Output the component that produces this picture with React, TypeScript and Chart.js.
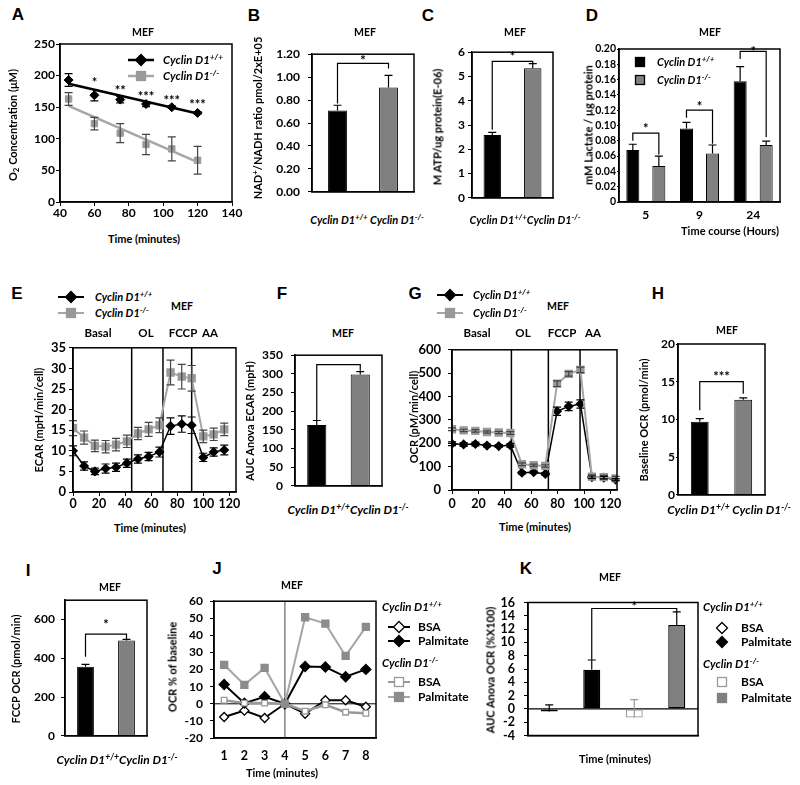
import React, { useEffect, useRef } from 'react';
import { Chart, registerables } from 'chart.js';

Chart.register(...registerables);

const FONT = "Lato, 'Noto Sans', 'DejaVu Sans', sans-serif";
const LETTER_FONT = "'Liberation Sans', Arial, sans-serif";
const GRAY = '#808080';

// ===== Panel A: O2 concentration =====
const aTimes = [45, 60, 75, 90, 105, 120];
const aWT = [193, 169, 162, 155, 150, 141];
const aWTErr = [10, 9, 5, 4, 2, 2];
const aKO = [163, 124, 109, 91, 84, 66];
const aKOErr = [10, 10, 15, 16, 19, 22];
const aTrendX = [45, 120];
const aTrendWT = [187, 140];
const aTrendKO = [152, 63];
const aStarX = [60, 75, 90, 105, 120];
const aStarY = [193, 180, 171, 165, 158];
const aStarText = ['*', '**', '***', '***', '***'];
const aXTicks = [40, 60, 80, 100, 120, 140];
const aYTicks = [0, 50, 100, 150, 200, 250];

// ===== Bar categories (B, C, F, H, I) =====
const barCats = ['Cyclin D1+/+', 'Cyclin D1-/-'];

// ===== Panel B: NAD+/NADH =====
const bVals = [0.71, 0.91];
const bErr = [0.045, 0.105];
const bYTicks = [0, 0.2, 0.4, 0.6, 0.8, 1.0, 1.2];

// ===== Panel C: ATP =====
const cVals = [2.59, 5.34];
const cErr = [0.11, 0.19];
const cYTicks = [0, 1, 2, 3, 4, 5, 6];

// ===== Panel D: Lactate =====
const dCats = ['5', '9', '24'];
const dWT = [0.068, 0.096, 0.158];
const dWTErr = [0.0075, 0.008, 0.019];
const dKO = [0.047, 0.0635, 0.0745];
const dKOErr = [0.013, 0.011, 0.005];
const dYTicks = [0, 0.02, 0.04, 0.06, 0.08, 0.1, 0.12, 0.14, 0.16, 0.18, 0.2];

// ===== Panel E: ECAR =====
const eTimes = [0, 8.5, 16.8, 25, 33, 41.3, 49.8, 58, 66.3, 74.8, 83.4, 91, 99.9, 107.9, 116];
const eKO = [15.5, 13.2, 11.2, 11, 11.5, 12.3, 14.2, 15.2, 16.2, 29, 28, 27.6, 13.5, 14, 15.2];
const eKOErr = [1.8, 1.6, 1.4, 1.5, 1.5, 1.5, 1.5, 1.7, 1.8, 3, 3, 3.1, 1.5, 1.5, 1.5];
const eWT = [10, 6.3, 5, 5.7, 6, 7, 8, 8.6, 9.7, 16, 16.5, 16.2, 8.4, 9.7, 10.2];
const eWTErr = [1.2, 1, 0.8, 1.1, 1, 1, 1, 1, 1.2, 2, 2, 2, 1, 1, 1.2];
const ePhase = [45, 69, 91];
const eXTicks = [0, 20, 40, 60, 80, 100, 120];
const eYTicks = [0, 5, 10, 15, 20, 25, 30, 35];

// ===== Panel F: AUC ECAR =====
const fVals = [163, 298];
const fErr = [12, 8];
const fYTicks = [0, 50, 100, 150, 200, 250, 300, 350];

// ===== Panel G: OCR =====
const gTimes = [0, 8.8, 17.7, 26.5, 35.4, 44.2, 53, 61.9, 70.7, 79.6, 88.4, 97.3, 106, 115, 124];
const gKO = [260, 255, 253, 248, 246, 244, 110, 106, 103, 455, 497, 514, 57, 55, 50];
const gKOErr = [6, 5, 5, 5, 5, 6, 6, 5, 5, 12, 10, 12, 8, 8, 8];
const gWT = [198, 195, 197, 190, 188, 191, 74, 76, 69, 337, 358, 368, 55, 53, 44];
const gWTErr = [8, 8, 8, 6, 6, 8, 5, 5, 5, 18, 18, 18, 5, 5, 5];
const gPhase = [45, 73, 97];
const gXTicks = [0, 20, 40, 60, 80, 100, 120];
const gYTicks = [0, 100, 200, 300, 400, 500, 600];

// ===== Panel H: baseline OCR =====
const hVals = [9.7, 12.6];
const hErr = [0.4, 0.25];
const hYTicks = [0, 5, 10, 15, 20];

// ===== Panel I: FCCP OCR =====
const iVals = [357, 492];
const iErr = [12, 6];
const iYTicks = [0, 200, 400, 600];

// ===== Panel J: OCR % of baseline =====
const jCats = ['1', '2', '3', '4', '5', '6', '7', '8'];
const jKOPal = [22.8, 11.1, 21, 0, 50.6, 46.9, 28, 45];
const jWTPal = [11.3, 0.4, 4.1, 0, 21.8, 21.5, 15.8, 20.1];
const jWTBSA = [-7.7, -4, -8.3, 0, -5.8, 2.1, 2.1, -1.7];
const jKOBSA = [2.1, 0.4, 0.4, 0, -4.3, -0.6, -4.9, -5.5];
const jYTicks = [-20, -10, 0, 10, 20, 30, 40, 50, 60];

// ===== Panel K: AUC OCR =====
const kCats = ['BSA +/+', 'Palmitate +/+', 'BSA -/-', 'Palmitate -/-'];
const kVals = [-0.4, 5.9, -1.3, 12.6];
const kErr = [1.0, 1.45, 2.7, 2.0];
const kYTicks = [-4, -2, 0, 2, 4, 6, 8, 10, 12, 14, 16];

// ---------- helpers ----------
const PT = 10;
const PR = 16;
const tf = (size: number) => ({ family: FONT, size, weight: 'bold' as const });

function drawStar(ctx: any, x: number, y: number, text: string) {
  ctx.save();
  ctx.fillStyle = '#000';
  ctx.font = `bold 13px ${FONT}`;
  ctx.textAlign = 'center';
  ctx.textBaseline = 'alphabetic';
  ctx.fillText(text, x, y + 7);
  ctx.restore();
}

function overlay(spec: any) {
  return {
    id: 'overlay',
    beforeDatasetsDraw(chart: any) {
      const { ctx, chartArea: ca } = chart;
      const xs = chart.scales.x;
      const ys = chart.scales.y;
      ctx.save();
      for (const h of spec.hlines || []) {
        const y = ys.getPixelForValue(h.y);
        ctx.strokeStyle = h.color;
        ctx.lineWidth = h.width;
        ctx.beginPath();
        ctx.moveTo(ca.left, y);
        ctx.lineTo(ca.right, y);
        ctx.stroke();
      }
      for (const v of spec.vlines || []) {
        const x = xs.getPixelForValue(v.x);
        ctx.strokeStyle = v.color;
        ctx.lineWidth = v.width;
        ctx.beginPath();
        ctx.moveTo(x, ca.top);
        ctx.lineTo(x, ca.bottom);
        ctx.stroke();
      }
      ctx.restore();
    },
    afterDatasetsDraw(chart: any) {
      const { ctx } = chart;
      const xs = chart.scales.x;
      const ys = chart.scales.y;
      ctx.save();
      chart.data.datasets.forEach((ds: any, di: number) => {
        if (!ds.errors) return;
        const meta = chart.getDatasetMeta(di);
        meta.data.forEach((el: any, i: number) => {
          const e = ds.errors[i];
          if (e == null) return;
          const raw = ds.data[i];
          const v = typeof raw === 'number' ? raw : raw.y;
          const col = Array.isArray(ds.errColor) ? ds.errColor[i] : ds.errColor || '#000';
          const top = ys.getPixelForValue(v + e);
          const bot = ys.getPixelForValue(ds.errMode === 'both' ? v - e : v);
          const cw = ds.errCap ?? 4;
          ctx.strokeStyle = col;
          ctx.lineWidth = 1.2;
          ctx.beginPath();
          ctx.moveTo(el.x, bot);
          ctx.lineTo(el.x, top);
          ctx.moveTo(el.x - cw, top);
          ctx.lineTo(el.x + cw, top);
          if (ds.errMode === 'both') {
            ctx.moveTo(el.x - cw, bot);
            ctx.lineTo(el.x + cw, bot);
          }
          ctx.stroke();
        });
      });
      for (const b of spec.brackets || []) {
        const xa = chart.getDatasetMeta(b.a[0]).data[b.a[1]].x;
        const xb = chart.getDatasetMeta(b.b[0]).data[b.b[1]].x;
        const yt = ys.getPixelForValue(b.top);
        ctx.strokeStyle = '#000';
        ctx.lineWidth = 1.2;
        ctx.beginPath();
        ctx.moveTo(xa, ys.getPixelForValue(b.ya));
        ctx.lineTo(xa, yt);
        ctx.lineTo(xb, yt);
        ctx.lineTo(xb, ys.getPixelForValue(b.yb));
        ctx.stroke();
        if (b.text) drawStar(ctx, (xa + xb) / 2, ys.getPixelForValue(b.ty), b.text);
      }
      for (const t of spec.texts || []) {
        drawStar(ctx, xs.getPixelForValue(t.x), ys.getPixelForValue(t.y), t.text);
      }
      ctx.restore();
    },
    afterDraw(chart: any) {
      const { ctx, chartArea: ca } = chart;
      ctx.save();
      ctx.strokeStyle = '#000';
      ctx.lineWidth = 1.5;
      ctx.strokeRect(ca.left, ca.top, ca.right - ca.left, ca.bottom - ca.top);
      ctx.restore();
    },
  };
}

function linY(min: number, max: number, ticks: number[], yW: number, o: any = {}) {
  return {
    type: 'linear',
    position: 'left',
    min,
    max,
    afterBuildTicks: (s: any) => {
      s.ticks = ticks.map((v) => ({ value: v }));
    },
    ticks: {
      font: tf(o.size ?? 12),
      color: '#000',
      padding: o.pad ?? 3,
      autoSkip: false,
      callback: o.fmt ?? ((v: any) => String(v)),
    },
    grid: { drawOnChartArea: false, drawTicks: true, tickLength: o.tl ?? 4, color: '#000', lineWidth: 1 },
    border: { display: true, color: '#000', width: 1.5 },
    afterFit: (s: any) => {
      s.width = yW;
    },
  };
}

function linX(min: number, max: number, ticks: number[], xH: number, o: any = {}) {
  return {
    type: 'linear',
    position: 'bottom',
    min,
    max,
    afterBuildTicks: (s: any) => {
      s.ticks = ticks.map((v) => ({ value: v }));
    },
    ticks: {
      font: tf(o.size ?? 12),
      color: '#000',
      padding: o.pad ?? 0,
      maxRotation: 0,
      autoSkip: false,
      callback: (v: any) => String(v),
    },
    grid: { drawOnChartArea: false, drawTicks: true, tickLength: o.tl ?? 4, color: '#000', lineWidth: 1 },
    border: { display: true, color: '#000', width: 1.5 },
    afterFit: (s: any) => {
      s.height = xH;
    },
  };
}

function catX(xH: number, o: any = {}) {
  return {
    type: 'category',
    position: 'bottom',
    offset: true,
    ticks: {
      display: !!o.show,
      font: tf(o.size ?? 12),
      color: '#000',
      padding: o.pad ?? 4,
      maxRotation: 0,
      autoSkip: false,
    },
    grid: { display: false, drawTicks: false },
    border: { display: true, color: '#000', width: 1.5 },
    afterFit: (s: any) => {
      s.height = xH;
    },
  };
}

function opts(x: any, y: any) {
  return {
    responsive: false,
    maintainAspectRatio: false,
    animation: false,
    events: [],
    layout: { padding: { top: PT, right: PR, left: 0, bottom: 0 } },
    plugins: { legend: { display: false }, tooltip: { enabled: false }, title: { display: false } },
    scales: { x, y },
  };
}

const pts = (xs: number[], ys: number[]) => xs.map((x, i) => ({ x, y: ys[i] }));

type Rect = { l: number; t: number; r: number; b: number };

function Panel({ rect, yW, xH, make }: { rect: Rect; yW: number; xH: number; make: (yW: number, xH: number) => any }) {
  const ref = useRef<HTMLCanvasElement | null>(null);
  const w = yW + (rect.r - rect.l) + PR;
  const h = PT + (rect.b - rect.t) + xH;
  useEffect(() => {
    const c = new Chart(ref.current as HTMLCanvasElement, make(yW, xH));
    return () => c.destroy();
  }, []);
  return (
    <canvas
      ref={ref}
      width={w}
      height={h}
      style={{ position: 'absolute', left: rect.l - yW, top: rect.t - PT, width: w, height: h }}
    />
  );
}

function twoBar(vals: number[], errs: number[], barPct: number) {
  return {
    labels: barCats,
    datasets: [
      {
        data: vals,
        errors: errs,
        errMode: 'up',
        backgroundColor: ['#000000', GRAY],
        borderColor: '#000',
        borderWidth: 1,
        barPercentage: barPct,
        categoryPercentage: 1,
      },
    ],
  };
}

// ---------- chart builders ----------
const makeA = (yW: number, xH: number) => ({
  type: 'scatter',
  data: {
    datasets: [
      { data: pts(aTrendX, aTrendWT), showLine: true, pointRadius: 0, borderColor: '#000', borderWidth: 2.5 },
      { data: pts(aTrendX, aTrendKO), showLine: true, pointRadius: 0, borderColor: '#a6a6a6', borderWidth: 2.5 },
      {
        data: pts(aTimes, aWT), errors: aWTErr, errMode: 'both', errColor: '#000',
        pointStyle: 'rectRot', pointRadius: 4.5, backgroundColor: '#000', borderColor: '#000',
      },
      {
        data: pts(aTimes, aKO), errors: aKOErr, errMode: 'both', errColor: '#444',
        pointStyle: 'rect', pointRadius: 4.5, backgroundColor: '#999', borderColor: '#999',
      },
    ],
  },
  options: opts(linX(40, 140, aXTicks, xH, { pad: 0 }), linY(0, 250, aYTicks, yW, { pad: 1 })),
  plugins: [overlay({ texts: aStarX.map((x, i) => ({ x, y: aStarY[i], text: aStarText[i] })) })],
});

const makeB = (yW: number, xH: number) => ({
  type: 'bar',
  data: twoBar(bVals, bErr, 0.37),
  options: opts(catX(xH), linY(0, 1.2, bYTicks, yW, { pad: 8, fmt: (v: number) => v.toFixed(2) })),
  plugins: [overlay({ brackets: [{ a: [0, 0], b: [0, 1], ya: 0.77, yb: 1.075, top: 1.12, text: '*', ty: 1.17 }] })],
});

const makeC = (yW: number, xH: number) => ({
  type: 'bar',
  data: twoBar(cVals, cErr, 0.43),
  options: opts(catX(xH), linY(0, 6, cYTicks, yW, { pad: 3 })),
  plugins: [overlay({ brackets: [{ a: [0, 0], b: [0, 1], ya: 2.8, yb: 5.5, top: 5.62, text: '*', ty: 5.93 }] })],
});

const makeD = (yW: number, xH: number) => ({
  type: 'bar',
  data: {
    labels: dCats,
    datasets: [
      {
        data: dWT, errors: dWTErr, errMode: 'up', backgroundColor: '#000', borderColor: '#000', borderWidth: 1,
        barPercentage: 0.5, categoryPercentage: 0.97,
      },
      {
        data: dKO, errors: dKOErr, errMode: 'up', backgroundColor: GRAY, borderColor: '#000', borderWidth: 1,
        barPercentage: 0.5, categoryPercentage: 0.97,
      },
    ],
  },
  options: opts(
    catX(xH, { show: true, pad: 6 }),
    linY(0, 0.2, dYTicks, yW, { size: 10.5, pad: 1, tl: 2, fmt: (v: number) => (v === 0 ? '0' : v.toFixed(2)) })
  ),
  plugins: [
    overlay({
      brackets: [
        { a: [0, 0], b: [1, 0], ya: 0.08, yb: 0.062, top: 0.09, text: '*', ty: 0.1 },
        { a: [0, 1], b: [1, 1], ya: 0.11, yb: 0.076, top: 0.12, text: '*', ty: 0.128 },
        { a: [0, 2], b: [1, 2], ya: 0.187, yb: 0.085, top: 0.197, text: '*', ty: 0.2 },
      ],
    }),
  ],
});

const makeTimeCourse = (
  times: number[], ko: number[], koErr: number[], wt: number[], wtErr: number[],
  phase: number[], xTicks: number[], yMax: number, yTicks: number[], yPad: number, xPad: number
) => (yW: number, xH: number) => ({
  type: 'scatter',
  data: {
    datasets: [
      {
        data: pts(times, ko), errors: koErr, errMode: 'both', errColor: '#444',
        showLine: true, borderColor: '#a6a6a6', borderWidth: 2,
        pointStyle: 'rect', pointRadius: 4.5, backgroundColor: '#999', pointBorderColor: '#999',
      },
      {
        data: pts(times, wt), errors: wtErr, errMode: 'both', errColor: '#000',
        showLine: true, borderColor: '#000', borderWidth: 1.5,
        pointStyle: 'rectRot', pointRadius: 4, backgroundColor: '#000', pointBorderColor: '#000',
      },
    ],
  },
  options: opts(
    linX(0, 125, xTicks, xH, { pad: xPad, size: 12.5 }),
    linY(0, yMax, yTicks, yW, { pad: yPad, size: 13 })
  ),
  plugins: [overlay({ vlines: phase.map((x) => ({ x, color: '#000', width: 1.5 })) })],
});

const makeE = makeTimeCourse(eTimes, eKO, eKOErr, eWT, eWTErr, ePhase, eXTicks, 35, eYTicks, 3, 0);
const makeG = makeTimeCourse(gTimes, gKO, gKOErr, gWT, gWTErr, gPhase, gXTicks, 600, gYTicks, 7, 2);

const makeF = (yW: number, xH: number) => ({
  type: 'bar',
  data: twoBar(fVals, fErr, 0.44),
  options: opts(catX(xH), linY(0, 350, fYTicks, yW, { pad: 8 })),
  plugins: [overlay({ brackets: [{ a: [0, 0], b: [0, 1], ya: 176, yb: 308, top: 325 }] })],
});

const makeH = (yW: number, xH: number) => ({
  type: 'bar',
  data: twoBar(hVals, hErr, 0.41),
  options: opts(catX(xH), linY(0, 20, hYTicks, yW, { pad: 1, tl: 2 })),
  plugins: [overlay({ brackets: [{ a: [0, 0], b: [0, 1], ya: 11.2, yb: 13.4, top: 15, text: '***', ty: 16 }] })],
});

const makeI = (yW: number, xH: number) => ({
  type: 'bar',
  data: twoBar(iVals, iErr, 0.41),
  options: opts(catX(xH), linY(0, 700, iYTicks, yW, { pad: 6 })),
  plugins: [overlay({ brackets: [{ a: [0, 0], b: [0, 1], ya: 408, yb: 500, top: 525, text: '*', ty: 588 }] })],
});

const makeJ = (yW: number, xH: number) => ({
  type: 'line',
  data: {
    labels: jCats,
    datasets: [
      {
        data: jKOPal, borderColor: '#a6a6a6', borderWidth: 2, tension: 0, fill: false,
        pointStyle: 'rect', pointRadius: 4.5, pointBackgroundColor: '#8c8c8c', pointBorderColor: '#8c8c8c',
      },
      {
        data: jKOBSA, borderColor: '#999', borderWidth: 2.5, tension: 0, fill: false,
        pointStyle: 'rect', pointRadius: 4, pointBackgroundColor: '#fff', pointBorderColor: '#999', pointBorderWidth: 1.3,
      },
      {
        data: jWTPal, borderColor: '#000', borderWidth: 2, tension: 0, fill: false,
        pointStyle: 'rectRot', pointRadius: 4.5, pointBackgroundColor: '#000', pointBorderColor: '#000',
      },
      {
        data: jWTBSA, borderColor: '#000', borderWidth: 2, tension: 0, fill: false,
        pointStyle: 'rectRot', pointRadius: 4.5, pointBackgroundColor: '#fff', pointBorderColor: '#000', pointBorderWidth: 1.3,
      },
    ],
  },
  options: opts(catX(xH, { show: true, pad: 10, size: 12.5 }), linY(-20, 60, jYTicks, yW, { pad: 7 })),
  plugins: [
    overlay({
      hlines: [{ y: 0, color: '#000', width: 1 }],
      vlines: [{ x: 3, color: '#808080', width: 1.5 }],
    }),
  ],
});

const makeK = (yW: number, xH: number) => ({
  type: 'bar',
  data: {
    labels: kCats,
    datasets: [
      {
        data: kVals, errors: kErr, errMode: 'up', errColor: ['#000', '#000', '#999', '#000'],
        backgroundColor: ['#ffffff', '#000000', '#ffffff', GRAY],
        borderColor: ['#000', '#000', '#999', '#000'],
        borderWidth: 1.3, borderSkipped: false,
        barPercentage: 0.4, categoryPercentage: 1,
      },
    ],
  },
  options: opts(catX(xH), linY(-4, 16, kYTicks, yW, { pad: 9, size: 12.5 })),
  plugins: [
    overlay({
      hlines: [{ y: 0, color: '#000', width: 1.2 }],
      brackets: [{ a: [0, 1], b: [0, 3], ya: 7.4, yb: 14.6, top: 15.1, text: '*', ty: 15.7 }],
    }),
  ],
});

// ---------- HTML text helpers ----------
function Txt({ x, y, s = 11, it = false, rot = false, left = false, fam = FONT, children }: any) {
  return (
    <div
      style={{
        position: 'absolute', left: x, top: y,
        transform: `translate(${left ? '0' : '-50%'}, -50%)${rot ? ' rotate(-90deg)' : ''}`,
        fontFamily: fam, fontSize: s, fontWeight: 'bold', fontStyle: it ? 'italic' : 'normal',
        whiteSpace: 'nowrap', lineHeight: 1, color: '#000',
      }}
    >
      {children}
    </div>
  );
}
const Sup = ({ c }: any) => <span style={{ fontSize: '0.72em', position: 'relative', top: '-0.45em' }}>{c}</span>;
const Sub = ({ c }: any) => <span style={{ fontSize: '0.72em', position: 'relative', top: '0.25em' }}>{c}</span>;
const Cy = ({ g }: any) => (
  <span style={{ fontStyle: 'italic' }}>
    Cyclin D1<Sup c={g} />
  </span>
);

function Mark({ x, y, w = 26, line, lw = 2, shape, fill, stroke }: any) {
  const cx = w / 2;
  return (
    <svg style={{ position: 'absolute', left: x, top: y - 7, overflow: 'visible' }} width={w} height={14}>
      {line && <line x1={0} y1={7} x2={w} y2={7} stroke={line} strokeWidth={lw} />}
      {shape === 'd' && (
        <polygon points={`${cx},1.5 ${cx + 5.5},7 ${cx},12.5 ${cx - 5.5},7`} fill={fill} stroke={stroke} strokeWidth={1.3} />
      )}
      {shape === 's' && <rect x={cx - 4.5} y={2.5} width={9} height={9} fill={fill} stroke={stroke} strokeWidth={1.3} />}
    </svg>
  );
}

const RA = { l: 60, t: 44, r: 232, b: 202 };
const RB = { l: 312, t: 49, r: 414, b: 199 };
const RC = { l: 472, t: 52, r: 553, b: 200 };
const RD = { l: 619, t: 49, r: 780, b: 202 };
const RE = { l: 73, t: 347, r: 236, b: 492 };
const RF = { l: 295, t: 350, r: 382, b: 493 };
const RG = { l: 452, t: 345, r: 617, b: 490 };
const RH = { l: 678, t: 344, r: 765, b: 495 };
const RI = { l: 65, t: 597, r: 147, b: 741 };
const RJ = { l: 214, t: 597, r: 376, b: 738 };
const RK = { l: 528, t: 596, r: 698, b: 744 };

export default function App() {
  return (
    <div style={{ position: 'absolute', left: 0, top: 0, width: 800, height: 785, background: '#fff', overflow: 'hidden' }}>
      <Panel rect={RA} yW={45} xH={24} make={makeA} />
      <Panel rect={RB} yW={45} xH={8} make={makeB} />
      <Panel rect={RC} yW={30} xH={8} make={makeC} />
      <Panel rect={RD} yW={40} xH={24} make={makeD} />
      <Panel rect={RE} yW={35} xH={24} make={makeE} />
      <Panel rect={RF} yW={40} xH={8} make={makeF} />
      <Panel rect={RG} yW={40} xH={24} make={makeG} />
      <Panel rect={RH} yW={30} xH={8} make={makeH} />
      <Panel rect={RI} yW={45} xH={8} make={makeI} />
      <Panel rect={RJ} yW={40} xH={28} make={makeJ} />
      <Panel rect={RK} yW={40} xH={8} make={makeK} />

      {/* panel letters */}
      <Txt x={18} y={14} s={17} fam={LETTER_FONT}>A</Txt>
      <Txt x={254} y={15} s={17} fam={LETTER_FONT}>B</Txt>
      <Txt x={428} y={15} s={17} fam={LETTER_FONT}>C</Txt>
      <Txt x={592} y={15} s={17} fam={LETTER_FONT}>D</Txt>
      <Txt x={17} y={293} s={17} fam={LETTER_FONT}>E</Txt>
      <Txt x={282} y={293} s={17} fam={LETTER_FONT}>F</Txt>
      <Txt x={415} y={293} s={17} fam={LETTER_FONT}>G</Txt>
      <Txt x={658} y={293} s={17} fam={LETTER_FONT}>H</Txt>
      <Txt x={28} y={570} s={17} fam={LETTER_FONT}>I</Txt>
      <Txt x={217} y={568} s={17} fam={LETTER_FONT}>J</Txt>
      <Txt x={526} y={568} s={17} fam={LETTER_FONT}>K</Txt>

      {/* MEF titles */}
      <Txt x={143} y={32} s={10.5}>MEF</Txt>
      <Txt x={365} y={32} s={10.5}>MEF</Txt>
      <Txt x={515} y={32} s={10.5}>MEF</Txt>
      <Txt x={710} y={32} s={10.5}>MEF</Txt>
      <Txt x={182} y={306} s={10.5}>MEF</Txt>
      <Txt x={343} y={333} s={10.5}>MEF</Txt>
      <Txt x={558} y={306} s={10.5}>MEF</Txt>
      <Txt x={727} y={330} s={10.5}>MEF</Txt>
      <Txt x={110} y={587} s={10.5}>MEF</Txt>
      <Txt x={292} y={585} s={10.5}>MEF</Txt>
      <Txt x={610} y={577} s={10.5}>MEF</Txt>

      {/* y-axis titles */}
      <Txt x={13} y={125} rot>O<Sub c="2" /> Concentration (μM)</Txt>
      <Txt x={258} y={118} rot>NAD<Sup c="+" />/NADH ratio pmol/2xE+05</Txt>
      <Txt x={437} y={127} rot>M ATP/ug protein(E-06)</Txt>
      <Txt x={588} y={125} rot>mM Lactate / µg protein</Txt>
      <Txt x={38} y={420} rot>ECAR (mpH/min/cell)</Txt>
      <Txt x={249} y={421} rot>AUC Anova ECAR (mpH)</Txt>
      <Txt x={413} y={417} rot>OCR (pM/min/cell)</Txt>
      <Txt x={643} y={420} rot>Baseline OCR (pmol/min)</Txt>
      <Txt x={15} y={669} rot>FCCP OCR (pmol/min)</Txt>
      <Txt x={172} y={667} rot>OCR % of baseline</Txt>
      <Txt x={490} y={670} rot>AUC Anova OCR (%X100)</Txt>

      {/* x-axis titles */}
      <Txt x={144} y={238}>Time (minutes)</Txt>
      <Txt x={730} y={230}>Time course (Hours)</Txt>
      <Txt x={150} y={527}>Time (minutes)</Txt>
      <Txt x={535} y={526}>Time (minutes)</Txt>
      <Txt x={282} y={772}>Time (minutes)</Txt>
      <Txt x={615} y={758}>Time (minutes)</Txt>

      {/* category labels */}
      <Txt x={367} y={220} it><Cy g="+/+" /> <Cy g="-/-" /></Txt>
      <Txt x={525} y={220} it><Cy g="+/+" /><Cy g="-/-" /></Txt>
      <Txt x={348} y={510} s={12} it><Cy g="+/+" /><Cy g="-/-" /></Txt>
      <Txt x={729} y={510} s={12} it><Cy g="+/+" /> <Cy g="-/-" /></Txt>
      <Txt x={117} y={760} s={12} it><Cy g="+/+" /><Cy g="-/-" /></Txt>

      {/* phase labels */}
      <Txt x={98} y={333} s={11.5}>Basal</Txt>
      <Txt x={146} y={333} s={11.5}>OL</Txt>
      <Txt x={183} y={333} s={11.5}>FCCP</Txt>
      <Txt x={210} y={333} s={11.5}>AA</Txt>
      <Txt x={477} y={333} s={11.5}>Basal</Txt>
      <Txt x={523} y={333} s={11.5}>OL</Txt>
      <Txt x={562} y={333} s={11.5}>FCCP</Txt>
      <Txt x={593} y={333} s={11.5}>AA</Txt>

      {/* legend A */}
      <Mark x={128} y={60} line="#000" lw={2.5} shape="d" fill="#000" stroke="#000" />
      <Txt x={163} y={60} left it s={11.5}><Cy g="+/+" /></Txt>
      <Mark x={128} y={76} line="#a6a6a6" lw={2.5} shape="s" fill="#999" stroke="#999" />
      <Txt x={163} y={76} left it s={11.5}><Cy g="-/-" /></Txt>

      {/* legend D */}
      <Mark x={630} y={62} w={20} shape="s" fill="#000" stroke="#000" />
      <Txt x={657} y={62} left it s={11}><Cy g="+/+" /></Txt>
      <Mark x={630} y={80} w={20} shape="s" fill={GRAY} stroke="#000" />
      <Txt x={657} y={80} left it s={11}><Cy g="-/-" /></Txt>

      {/* legend E */}
      <Mark x={58} y={297} line="#000" shape="d" fill="#000" stroke="#000" />
      <Txt x={95} y={297} left it s={11}><Cy g="+/+" /></Txt>
      <Mark x={58} y={313} line="#a6a6a6" shape="s" fill="#999" stroke="#999" />
      <Txt x={95} y={313} left it s={11}><Cy g="-/-" /></Txt>

      {/* legend G */}
      <Mark x={437} y={295} line="#000" shape="d" fill="#000" stroke="#000" />
      <Txt x={473} y={295} left it s={11}><Cy g="+/+" /></Txt>
      <Mark x={437} y={313} line="#a6a6a6" shape="s" fill="#999" stroke="#999" />
      <Txt x={473} y={313} left it s={11}><Cy g="-/-" /></Txt>

      {/* legend J */}
      <Txt x={382} y={607} left it s={11.5}><Cy g="+/+" /></Txt>
      <Mark x={388} y={627} w={22} line="#000" shape="d" fill="#fff" stroke="#000" />
      <Txt x={418} y={627} left s={12}>BSA</Txt>
      <Mark x={388} y={641} w={22} line="#000" shape="d" fill="#000" stroke="#000" />
      <Txt x={418} y={641} left s={12}>Palmitate</Txt>
      <Txt x={382} y={663} left it s={11.5}><Cy g="-/-" /></Txt>
      <Mark x={388} y={682} w={22} line="#999" shape="s" fill="#fff" stroke="#999" />
      <Txt x={418} y={682} left s={12}>BSA</Txt>
      <Mark x={388} y={697} w={22} line="#a6a6a6" shape="s" fill="#8c8c8c" stroke="#8c8c8c" />
      <Txt x={418} y={697} left s={12}>Palmitate</Txt>

      {/* legend K */}
      <Txt x={703} y={607} left it s={11.5}><Cy g="+/+" /></Txt>
      <Mark x={712} y={628} w={20} shape="d" fill="#fff" stroke="#000" />
      <Txt x={741} y={628} left s={12}>BSA</Txt>
      <Mark x={712} y={642} w={20} shape="d" fill="#000" stroke="#000" />
      <Txt x={741} y={642} left s={12}>Palmitate</Txt>
      <Txt x={703} y={664} left it s={11.5}><Cy g="-/-" /></Txt>
      <Mark x={712} y={682} w={20} shape="s" fill="#fff" stroke="#999" />
      <Txt x={741} y={682} left s={12}>BSA</Txt>
      <Mark x={712} y={698} w={20} shape="s" fill={GRAY} stroke={GRAY} />
      <Txt x={741} y={698} left s={12}>Palmitate</Txt>
    </div>
  );
}
